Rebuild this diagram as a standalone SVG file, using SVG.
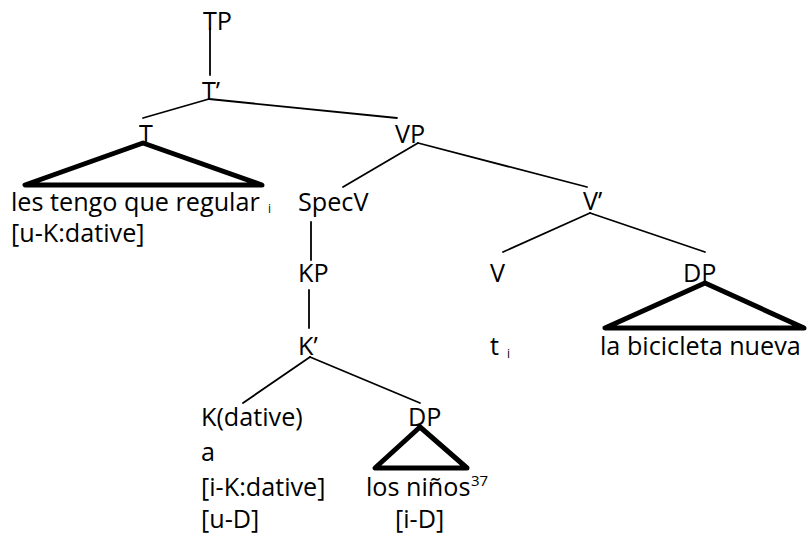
<svg xmlns="http://www.w3.org/2000/svg" width="807" height="539" viewBox="0 0 807 539">
<style>
text{font-family:"Open Sans","Liberation Sans",sans-serif;font-size:25.2px;fill:#000}
.sub{font-size:12px}
.sup{font-size:15px}
.edge{stroke:#000;stroke-width:1.8;fill:none;stroke-linecap:round}
.tri{stroke:#000;stroke-width:5;fill:none;stroke-linejoin:round;stroke-linecap:round}
</style>
<rect width="807" height="539" fill="#fff"/>
<g id="connectors">
<line class="edge" x1="210" y1="28" x2="210" y2="75"/>
<line class="edge" x1="209" y1="99" x2="143" y2="118"/>
<line class="edge" x1="209" y1="99" x2="397" y2="118"/>
<line class="edge" x1="418" y1="143" x2="343" y2="187"/>
<line class="edge" x1="418" y1="143" x2="587" y2="187"/>
<line class="edge" x1="311" y1="222" x2="311" y2="260"/>
<line class="edge" x1="309" y1="290" x2="309" y2="328"/>
<line class="edge" x1="310" y1="357" x2="243" y2="403"/>
<line class="edge" x1="310" y1="357" x2="420" y2="403"/>
<line class="edge" x1="590" y1="213" x2="503" y2="252"/>
<line class="edge" x1="590" y1="213" x2="705" y2="252"/>
</g>
<g id="TP"><text x="203" y="30">TP</text></g>
<g id="Tbar"><text x="202" y="100">T’</text></g>
<g id="T"><text x="139" y="143">T</text></g>
<g id="VP"><text x="395" y="143">VP</text></g>
<g id="T-content">
<polygon class="tri" points="143,143 25,185 262,185"/>
<text x="11" y="211">les tengo que regular<tspan x="11" y="242">[u-K:dative]</tspan></text>
<text class="sub" x="268" y="213">i</text>
</g>
<g id="SpecV"><text x="298" y="211">SpecV</text></g>
<g id="Vbar"><text x="583" y="210">V’</text></g>
<g id="KP"><text x="298" y="282">KP</text></g>
<g id="V"><text x="490" y="282">V</text></g>
<g id="DP-obj">
<text x="683" y="282">DP</text>
<polygon class="tri" points="705,283 605,328 804,328"/>
<text x="600" y="355">la bicicleta nueva</text>
</g>
<g id="Kbar"><text x="298" y="355">K’</text></g>
<g id="trace"><text x="490" y="355">t</text><text class="sub" x="507" y="358">i</text></g>
<g id="K">
<text x="201" y="426">K(dative)</text>
<text x="201" y="461">a</text>
<text x="201" y="496">[i-K:dative]</text>
<text x="201" y="528">[u-D]</text>
</g>
<g id="DP-k">
<text x="408" y="426">DP</text>
<polygon class="tri" points="420,427 375,468 467,468"/>
<text x="366" y="496">los niños</text>
<text class="sup" x="471" y="486">37</text>
<text x="395" y="528">[i-D]</text>
</g>
</svg>
